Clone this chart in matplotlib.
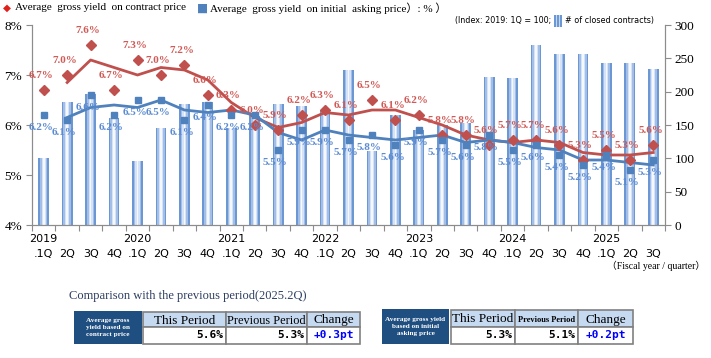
import matplotlib
matplotlib.use('Agg')
import matplotlib.pyplot as plt
from matplotlib.patches import Rectangle
import numpy as np
import pandas as pd

# quarters 2019 1Q .. 2025 3Q
years = ['2019', '2020', '2021', '2022', '2023', '2024', '2025']
quarters = ['.1Q', '2Q', '3Q', '4Q'] * 6 + ['.1Q', '2Q', '3Q']

# average gross yield on contract price (%)
contract_yield = [6.7, 7.0, 7.6, 6.7, 7.3, 7.0, 7.2, 6.6, 6.3, 6.0, 5.9, 6.2, 6.3, 6.1,
                  6.5, 6.1, 6.2, 5.8, 5.8, 5.6, 5.7, 5.7, 5.6, 5.3, 5.5, 5.3, 5.6]
# average gross yield on initial asking price (%)
asking_yield = [6.2, 6.1, 6.6, 6.2, 6.5, 6.5, 6.1, 6.4, 6.2, 6.2, 5.5, 5.9, 5.9, 5.7,
                5.8, 5.6, 5.9, 5.7, 5.6, 5.8, 5.5, 5.6, 5.4, 5.2, 5.4, 5.1, 5.3]
# number of closed contracts (index, 2019 1Q = 100)
contracts_index = [100, 184, 196, 160, 96, 145, 181, 185, 146, 163, 181, 178, 173, 233,
                   111, 165, 143, 150, 153, 222, 221, 270, 256, 256, 243, 243, 234]

# comparison tables
tbl_contract = ['5.6%', '5.3%', '+0.3pt']
tbl_asking = ['5.3%', '5.1%', '+0.2pt']

RED = '#c0504d'
BLUE = '#4f81bd'
SERIF = ['Liberation Serif', 'Noto Sans CJK JP']
SANS = ['DejaVu Sans']

W, H = 711, 358
fig = plt.figure(figsize=(W / 100, H / 100), dpi=100)


def fx(px):
    return px / W


def fy(py):
    return 1 - py / H


ax = fig.add_axes([fx(32), fy(225), fx(665) - fx(32), fy(25) - fy(225)])
ax2 = ax.twinx()

x = np.arange(len(contract_yield))

# bars with a simple "gradient" look
for w, c in [(0.46, '#6c97d5'), (0.32, '#a3bfe8'), (0.18, '#d6e3f6'), (0.07, '#f5f8fd')]:
    ax2.bar(x, contracts_index, width=w, color=c, linewidth=0, zorder=1)

# 2-period moving averages
ma_contract = pd.Series(contract_yield).rolling(2).mean()
ma_asking = pd.Series(asking_yield).rolling(2).mean()

ax.plot(x, ma_contract, color=RED, lw=2.0, zorder=3)
ax.plot(x, ma_asking, color=BLUE, lw=2.0, zorder=3)
ax.plot(x, contract_yield, 'D', color=RED, ms=5, ls='none', zorder=4)
ax.plot(x, asking_yield, 's', color=BLUE, ms=5, ls='none', zorder=4)

for xi, v in zip(x, contract_yield):
    ax.annotate(f'{v:.1f}%', (xi, v), xytext=(-2, 7), textcoords='offset points',
                ha='center', va='bottom', fontsize=8, color='#d05a55',
                family=SERIF, fontweight='bold', zorder=5)
for xi, v in zip(x, asking_yield):
    ax.annotate(f'{v:.1f}%', (xi, v), xytext=(-2, -6), textcoords='offset points',
                ha='center', va='top', fontsize=8, color='#5b8bd0',
                family=SERIF, fontweight='bold', zorder=5)

ax.set_zorder(ax2.get_zorder() + 1)
ax.patch.set_visible(False)

ax.set_xlim(-0.5, len(x) - 0.5)
ax.set_ylim(4, 8)
ax2.set_ylim(0, 300)
ax.set_yticks([4, 5, 6, 7, 8])
ax.set_yticklabels(['4%', '5%', '6%', '7%', '8%'], family=SERIF, fontsize=9.5)
ax2.set_yticks(range(0, 301, 50))
ax2.set_yticklabels([str(v) for v in range(0, 301, 50)], family=SERIF, fontsize=9.5)

for a in (ax, ax2):
    for s in a.spines.values():
        s.set_color('#8c8c8c')
    a.spines['top'].set_visible(False)
ax.tick_params(axis='y', length=4, color='#8c8c8c', pad=3)
ax2.tick_params(axis='y', length=4, color='#8c8c8c', pad=3)

# category ticks between quarters
ax.set_xticks(np.arange(-0.5, len(x), 1.0))
ax.set_xticklabels([])
ax.tick_params(axis='x', length=4, color='#8c8c8c')

for i, q in enumerate(quarters):
    ax.annotate(q, (i, 0), xycoords=('data', 'axes fraction'), xytext=(0, -21),
                textcoords='offset points', ha='center', va='center',
                fontsize=8, family=SANS)
for k, yr in enumerate(years):
    ax.annotate(yr, (k * 4, 0), xycoords=('data', 'axes fraction'), xytext=(0, -10),
                textcoords='offset points', ha='center', va='center',
                fontsize=8, family=SANS)

fig.text(fx(705), fy(266), '（Fiscal year / quarter）', ha='right', va='center',
         fontsize=7, family=SERIF)

# legend line at top
fig.text(fx(3), fy(8), '◆', color='#e0201b', fontsize=7.5, va='center', family='DejaVu Sans')
fig.text(fx(15), fy(8), 'Average  gross yield  on contract price', fontsize=8,
         va='center', family=SERIF)
fig.text(fx(197), fy(8), '■', color=BLUE, fontsize=8.5, va='center', family='DejaVu Sans')
fig.text(fx(210), fy(8), 'Average  gross yield  on initial  asking price）: % ）', fontsize=8,
         va='center', family=SERIF)

# index note with small bar icon, sized to fit between x=455 and x=655
renderer = fig.canvas.get_renderer()
note_a = '(Index: 2019: 1Q = 100;'
note_b = '# of closed contracts)'
fs = 7
t1 = fig.text(fx(455), fy(21), note_a, fontsize=fs, va='center', family=SANS)
t2 = fig.text(fx(455), fy(21), note_b, fontsize=fs, va='center', family=SANS)
wa = t1.get_window_extent(renderer).width
wb = t2.get_window_extent(renderer).width
fs = fs * (200 - 15) / (wa + wb)
t1.set_fontsize(fs)
t2.set_fontsize(fs)
end1 = t1.get_window_extent(renderer).x1
icon_x = end1 + 3
for dx, c in [(0, '#6c97d5'), (1.5, '#c6d7f1'), (3, '#6c97d5'), (4.5, '#c6d7f1'), (6, '#6c97d5')]:
    fig.patches.append(Rectangle((fx(icon_x + dx), fy(27)), fx(1.5), fy(15) - fy(27),
                                 transform=fig.transFigure, color=c, lw=0))
t2.set_x(fx(icon_x + 11))

# comparison tables
fig.text(fx(188), fy(296), 'Comparison with the previous period(2025.2Q)', ha='center',
         va='center', fontsize=9, family=SERIF, color='#2e3f63')


def rect(x0, y0, x1, y1, fc, ec='none', lw=0):
    fig.patches.append(Rectangle((fx(x0), fy(y1)), fx(x1) - fx(x0), fy(y0) - fy(y1),
                                 transform=fig.transFigure, facecolor=fc,
                                 edgecolor=ec, linewidth=lw))


def table(box, label, cols, rows, vals, prev_size):
    rect(box[0], box[1], box[2], box[3], '#1f4e80')
    fig.text(fx((box[0] + box[2]) / 2), fy((box[1] + box[3]) / 2), label, color='white',
             ha='center', va='center', fontsize=5.2, family=SERIF, fontweight='bold',
             linespacing=1.5)
    heads = ['This Period', 'Previous Period', 'Change']
    sizes = [9.5, prev_size, 9.5]
    for j in range(3):
        c0, c1 = cols[j], cols[j + 1]
        rect(c0, rows[0], c1, rows[1], '#c5d9f1', '#808080', 1.2)
        rect(c0, rows[1], c1, rows[2], 'white', '#808080', 1.2)
        fig.text(fx((c0 + c1) / 2), fy((rows[0] + rows[1]) / 2 + 1), heads[j], ha='center',
                 va='center', fontsize=sizes[j], family=SERIF,
                 fontweight='bold' if sizes[j] < 8 else 'normal')
        ym = fy((rows[1] + rows[2]) / 2)
        if j < 2:
            fig.text(fx(c1 - 3), ym, vals[j], ha='right', va='center', fontsize=8,
                     family='DejaVu Sans Mono', fontweight='bold')
        else:
            fig.text(fx((c0 + c1) / 2), ym, vals[j], ha='center', va='center', fontsize=8,
                     family='DejaVu Sans Mono', fontweight='bold', color='#0000ff')


table((74, 311, 142, 344), 'Average gross\nyield based on\ncontract price',
      [143, 226, 307, 360], [312, 327, 344], tbl_contract, 8.8)
table((382, 309, 449, 344), 'Average gross yield\nbased on initial\nasking price',
      [451, 515, 578, 633], [310, 327, 344], tbl_asking, 6)

fig.savefig('out.png', dpi=100)
